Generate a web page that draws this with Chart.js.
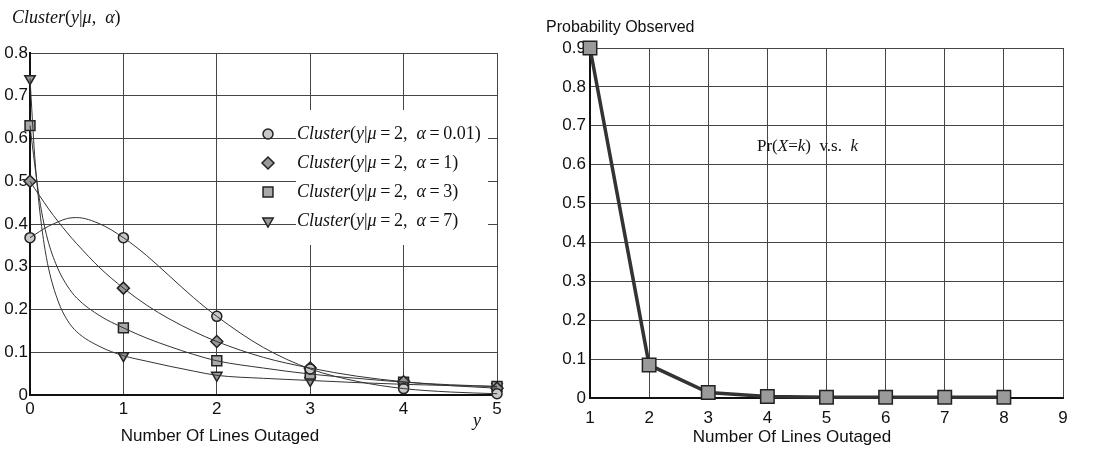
<!DOCTYPE html>
<html>
<head>
<meta charset="utf-8">
<script src="https://cdn.jsdelivr.net/npm/chart.js@4.4.0/dist/chart.umd.min.js"></script>
<style>
body{margin:0;background:#fff;}
#wrap{position:relative;width:1097px;height:450px;}
.box{position:absolute;top:0;height:450px;}
</style>
</head>
<body>
<div id="wrap">
  <div class="box" style="left:0;width:545px"><canvas id="left"></canvas></div>
  <div class="box" style="left:545px;width:552px"><canvas id="right"></canvas></div>
</div>
<script>
// left chart: Cluster(y | mu=2, alpha) curves
var curveX   = [0, 0.05, 0.1, 0.15, 0.2, 0.3, 0.4, 0.5, 0.75, 1, 1.25, 1.5, 1.75, 2, 2.5, 3, 3.5, 4, 4.5, 5];
var curveA001 = [0.368, 0.375, 0.382, 0.389, 0.395, 0.405, 0.413, 0.415, 0.400, 0.368, 0.326, 0.277, 0.228, 0.184, 0.111, 0.061, 0.032, 0.015, 0.007, 0.003];
var curveA1   = [0.500, 0.483, 0.467, 0.451, 0.435, 0.406, 0.379, 0.354, 0.297, 0.250, 0.210, 0.177, 0.149, 0.125, 0.088, 0.063, 0.044, 0.031, 0.022, 0.016];
var curveA3   = [0.630, 0.540, 0.460, 0.400, 0.355, 0.295, 0.255, 0.227, 0.185, 0.157, 0.133, 0.113, 0.095, 0.080, 0.063, 0.049, 0.039, 0.030, 0.024, 0.020];
var curveA7   = [0.740, 0.560, 0.440, 0.355, 0.295, 0.220, 0.175, 0.148, 0.113, 0.092, 0.079, 0.067, 0.056, 0.046, 0.039, 0.034, 0.029, 0.025, 0.022, 0.020];

var markX    = [0, 1, 2, 3, 4, 5];
var markA001 = [0.368, 0.368, 0.184, 0.061, 0.015, 0.003];
var markA1   = [0.500, 0.250, 0.125, 0.063, 0.031, 0.016];
var markA3   = [0.630, 0.157, 0.080, 0.049, 0.030, 0.020];
var markA7   = [0.740, 0.092, 0.046, 0.034, 0.025, 0.020];

var alphas = ['0.01', '1', '3', '7'];
var leftXTicks = [0, 1, 2, 3, 4, 5];
var leftXLabels = ['0', '1', '2', '3', '4', '5'];
var leftYTicks = [0, 0.1, 0.2, 0.3, 0.4, 0.5, 0.6, 0.7, 0.8];
var leftYLabels = ['0', '0.1', '0.2', '0.3', '0.4', '0.5', '0.6', '0.7', '0.8'];

// right chart: observed probability
var rightK    = [1, 2, 3, 4, 5, 6, 7, 8];
var rightProb = [0.900, 0.085, 0.014, 0.004, 0.002, 0.002, 0.002, 0.002];
var rightXTicks = [1, 2, 3, 4, 5, 6, 7, 8, 9];
var rightXLabels = ['1', '2', '3', '4', '5', '6', '7', '8', '9'];
var rightYTicks = [0, 0.1, 0.2, 0.3, 0.4, 0.5, 0.6, 0.7, 0.8, 0.9];
var rightYLabels = ['0', '0.1', '0.2', '0.3', '0.4', '0.5', '0.6', '0.7', '0.8', '0.9'];

var xTitle = 'Number Of Lines Outaged';
var rightTitle = 'Probability Observed';

Chart.defaults.font.family = "'Liberation Sans', Arial, sans-serif";
Chart.defaults.font.size = 17;
Chart.defaults.color = '#111';

var SERIF = "'Liberation Serif', 'Times New Roman', serif";
var markerStyles = [
  {pointStyle: 'circle', rotation: 0, radius: 5, fill: '#c8c8c8'},
  {pointStyle: 'rectRot', rotation: 0, radius: 6, fill: '#999'},
  {pointStyle: 'rect', rotation: 0, radius: 7, fill: '#aaa'},
  {pointStyle: 'triangle', rotation: 180, radius: 6, fill: '#999'}
];

function toPoints(xs, ys) {
  return xs.map(function (x, i) { return {x: x, y: ys[i]}; });
}

// draws a row of [text, italic] pieces one after another
function drawRich(ctx, x, y, parts, size) {
  ctx.save();
  ctx.textBaseline = 'middle';
  ctx.textAlign = 'left';
  ctx.fillStyle = '#111';
  parts.forEach(function (p) {
    ctx.font = (p[1] ? 'italic ' : '') + size + 'px ' + SERIF;
    ctx.fillText(p[0], x, y);
    x += ctx.measureText(p[0]).width;
  });
  ctx.restore();
  return x;
}

function drawMarker(ctx, st, x, y) {
  ctx.save();
  ctx.fillStyle = st.fill;
  ctx.strokeStyle = '#222';
  ctx.lineWidth = 1.5;
  Chart.helpers.drawPoint(ctx, {pointStyle: st.pointStyle, rotation: st.rotation, radius: st.radius, borderWidth: 1.5}, x, y);
  ctx.restore();
}

var leftDecor = {
  id: 'leftDecor',
  beforeDatasetsDraw: function (chart) {
    var ctx = chart.ctx;
    ctx.save();
    ctx.fillStyle = '#fff';
    ctx.fillRect(296, 110, 192, 135);
    ctx.restore();
  },
  afterDatasetsDraw: function (chart) {
    var ctx = chart.ctx;
    alphas.forEach(function (a, i) {
      var y = 134 + i * 29;
      drawMarker(ctx, markerStyles[i], 268, y);
      drawRich(ctx, 297, y, [['Cluster', true], ['(', false], ['y', true], ['|', false], ['\u03bc', true],
        ['\u2009=\u20092,  ', false], ['\u03b1', true], ['\u2009=\u2009' + a + ')', false]], 18);
    });
  },
  afterDraw: function (chart) {
    var ctx = chart.ctx;
    drawRich(ctx, 12, 18, [['Cluster', true], ['(', false], ['y', true], ['|', false], ['\u03bc', true], [',  ', false], ['\u03b1', true], [')', false]], 18);
    drawRich(ctx, 473, 421, [['y', true]], 18);
    ctx.save();
    ctx.font = '17px ' + Chart.defaults.font.family;
    ctx.fillStyle = '#111';
    ctx.textAlign = 'center';
    ctx.textBaseline = 'middle';
    ctx.fillText(xTitle, 220, 436);
    ctx.restore();
  }
};

var rightDecor = {
  id: 'rightDecor',
  afterDraw: function (chart) {
    var ctx = chart.ctx;
    ctx.save();
    ctx.font = '16px ' + Chart.defaults.font.family;
    ctx.fillStyle = '#111';
    ctx.textBaseline = 'middle';
    ctx.textAlign = 'left';
    ctx.fillText(rightTitle, 1, 28);
    ctx.font = '17px ' + Chart.defaults.font.family;
    ctx.textAlign = 'center';
    ctx.fillText(xTitle, 247, 437);
    ctx.restore();
    drawRich(ctx, 212, 147, [['Pr(', false], ['X', true], ['=', false], ['k', true], [')  v.s.  ', false], ['k', true]], 17);
  }
};

function axis(min, max, ticks, labels, pad, fit, isX) {
  return {
    type: 'linear', min: min, max: max,
    afterBuildTicks: function (s) { s.ticks = ticks.map(function (v) { return {value: v}; }); },
    afterFit: function (s) { if (isX) { s.height = fit; } else { s.width = fit; } },
    grid: {color: '#454545', lineWidth: 1, drawTicks: false},
    border: {color: '#111', width: 2},
    ticks: {padding: pad, color: '#111', autoSkip: false, maxRotation: 0,
      callback: function (v, i) { return labels[i]; }}
  };
}

var leftSets = [];
var curves = [curveA001, curveA1, curveA3, curveA7];
var marks = [markA001, markA1, markA3, markA7];
curves.forEach(function (c) {
  leftSets.push({data: toPoints(curveX, c), showLine: true, pointRadius: 0, borderColor: '#333',
    borderWidth: 1, cubicInterpolationMode: 'monotone', clip: false});
});
marks.forEach(function (m, i) {
  var st = markerStyles[i];
  leftSets.push({data: toPoints(markX, m), showLine: false, pointStyle: st.pointStyle, rotation: st.rotation,
    pointRadius: st.radius, backgroundColor: st.fill, borderColor: '#222', borderWidth: 1.5, clip: false});
});

var leftChart = new Chart(document.getElementById('left'), {
  type: 'scatter',
  data: {datasets: leftSets},
  options: {
    responsive: true, maintainAspectRatio: false, animation: false,
    layout: {padding: {left: 0, right: 48, top: 53, bottom: 0}},
    plugins: {legend: {display: false}, tooltip: {enabled: false}},
    scales: {
      x: axis(0, 5, leftXTicks, leftXLabels, 4, 55, true),
      y: axis(0, 0.8, leftYTicks, leftYLabels, 2, 30, false)
    }
  },
  plugins: [leftDecor]
});

var rightChart = new Chart(document.getElementById('right'), {
  type: 'scatter',
  data: {datasets: [{
    data: toPoints(rightK, rightProb), showLine: true, borderColor: '#333', borderWidth: 3.5,
    pointStyle: 'rect', pointRadius: 9.5, backgroundColor: '#9a9a9a',
    pointBorderColor: '#222', pointBorderWidth: 1.5, clip: false
  }]},
  options: {
    responsive: true, maintainAspectRatio: false, animation: false,
    layout: {padding: {left: 0, right: 34, top: 48, bottom: 0}},
    plugins: {legend: {display: false}, tooltip: {enabled: false}},
    scales: {
      x: axis(1, 9, rightXTicks, rightXLabels, 10, 52, true),
      y: axis(0, 0.9, rightYTicks, rightYLabels, 4, 45, false)
    }
  },
  plugins: [rightDecor]
});
</script>
</body>
</html>
